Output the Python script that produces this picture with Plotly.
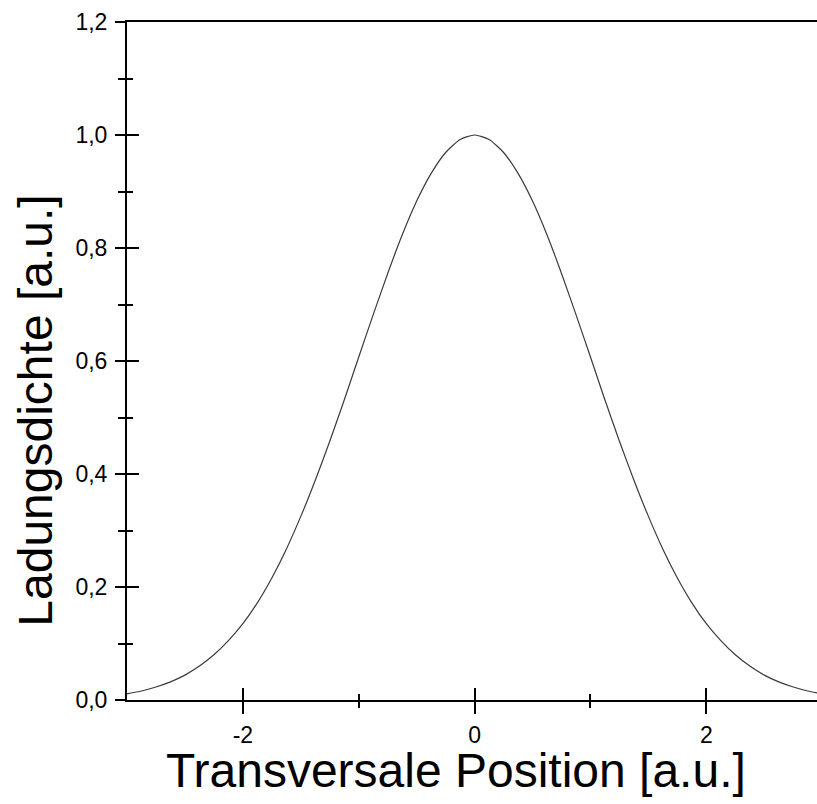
import plotly.graph_objects as go

# Data
x_pos = [-3.0, -2.875, -2.75, -2.625, -2.5, -2.375, -2.25, -2.125, -2.0, -1.875, -1.75, -1.625,
         -1.5, -1.375, -1.25, -1.125, -1.0, -0.875, -0.75, -0.625, -0.5, -0.375, -0.25, -0.125,
         0.0, 0.125, 0.25, 0.375, 0.5, 0.625, 0.75, 0.875, 1.0, 1.125, 1.25, 1.375,
         1.5, 1.625, 1.75, 1.875, 2.0, 2.125, 2.25, 2.375, 2.5, 2.625, 2.75, 2.875, 3.0]
density = [0.011, 0.016, 0.023, 0.032, 0.044, 0.060, 0.080, 0.105, 0.135, 0.172, 0.216, 0.267,
           0.325, 0.389, 0.458, 0.531, 0.607, 0.682, 0.755, 0.823, 0.883, 0.932, 0.969, 0.992,
           1.000, 0.992, 0.969, 0.932, 0.883, 0.823, 0.755, 0.682, 0.607, 0.531, 0.458, 0.389,
           0.325, 0.267, 0.216, 0.172, 0.135, 0.105, 0.080, 0.060, 0.044, 0.032, 0.023, 0.016, 0.011]

x_major = [-2, 0, 2]
x_minor = [-1, 1]
y_major = [0, 0.2, 0.4, 0.6, 0.8, 1.0, 1.2]
y_minor = [0.1, 0.3, 0.5, 0.7, 0.9, 1.1]

x_title = "Transversale Position [a.u.]"
y_title = "Ladungsdichte [a.u.]"

FONT = "Liberation Sans, Arial, sans-serif"

fig = go.Figure()
fig.add_trace(go.Scatter(x=x_pos, y=density, mode="lines",
                         line=dict(color="#3a3a3a", width=1.2, shape="spline", smoothing=0.6),
                         xaxis="x", yaxis="y", showlegend=False, hoverinfo="skip"))
# invisible trace to anchor the overlaid tick axes
fig.add_trace(go.Scatter(x=[x_pos[0]], y=[density[0]], mode="markers",
                         marker=dict(opacity=0), xaxis="x2", yaxis="y2",
                         showlegend=False, hoverinfo="skip"))

xr = [-3.0, 2.955]
yr = [0.0, 1.2]

fig.update_layout(
    width=817, height=804,
    margin=dict(l=127, r=0, t=22, b=104),
    paper_bgcolor="white", plot_bgcolor="white",
    separators=",.",
    font=dict(family=FONT, color="black", size=23),
    xaxis=dict(range=xr, showgrid=False, zeroline=False,
               showline=True, linecolor="black", linewidth=2, mirror=True,
               tickmode="array", tickvals=x_major, ticktext=["-2", "0", "2"],
               ticks="outside", ticklen=12, tickwidth=2, tickcolor="black",
               ticklabelstandoff=1,
               minor=dict(tickvals=x_minor, ticks="outside", ticklen=6,
                          tickwidth=2, tickcolor="black"),
               tickfont=dict(family=FONT, size=23, color="black")),
    yaxis=dict(range=yr, showgrid=False, zeroline=False,
               showline=True, linecolor="black", linewidth=2,
               tickmode="array", tickvals=y_major,
               tickformat=".1f",
               ticks="outside", ticklen=10, tickwidth=2, tickcolor="black",
               ticklabelstandoff=3,
               minor=dict(tickvals=y_minor, ticks="outside",
                          ticklen=7, tickwidth=2, tickcolor="black"),
               tickfont=dict(family=FONT, size=23, color="black")),
    xaxis2=dict(range=xr, overlaying="x", anchor="y2", side="bottom",
                showgrid=False, zeroline=False, showline=False,
                tickmode="array", tickvals=x_major, showticklabels=False,
                ticks="inside", ticklen=12, tickwidth=2, tickcolor="black",
                minor=dict(tickvals=x_minor, ticks="inside", ticklen=6,
                           tickwidth=2, tickcolor="black")),
    yaxis2=dict(range=yr, overlaying="y", anchor="x2", side="left",
                showgrid=False, zeroline=False, showline=False,
                tickmode="array", tickvals=y_major,
                showticklabels=False,
                ticks="inside", ticklen=12, tickwidth=2, tickcolor="black",
                minor=dict(tickvals=y_minor, ticks="inside",
                           ticklen=6, tickwidth=2, tickcolor="black")),
    annotations=[
        dict(text=x_title, xref="paper", yref="paper", x=0.477, y=-0.1035,
             xanchor="center", yanchor="middle", showarrow=False,
             font=dict(family=FONT, size=48, color="black")),
        dict(text=y_title, xref="paper", yref="paper", x=-0.1326, y=0.426,
             xanchor="center", yanchor="middle", showarrow=False, textangle=-90,
             font=dict(family=FONT, size=48, color="black")),
    ],
)

fig.write_html("out.html")
